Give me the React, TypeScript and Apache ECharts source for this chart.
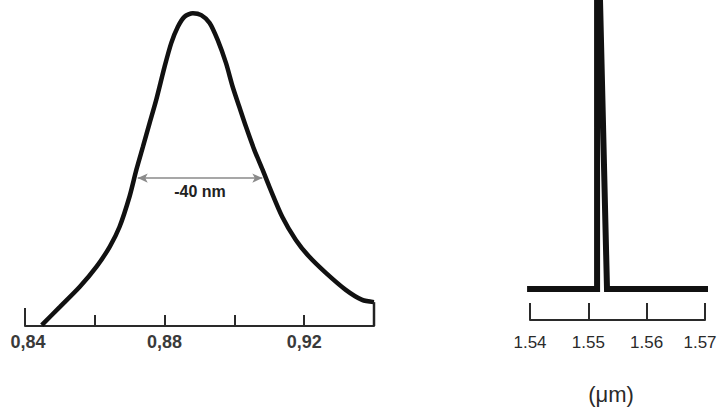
import React, { useEffect, useRef } from "react";
import * as echarts from "echarts";

// Left panel: broad emission spectrum (wavelength in µm, relative intensity)
const leftWavelengths = [
  0.8448, 0.85, 0.8557, 0.8605, 0.8643, 0.8671, 0.87, 0.8719, 0.8738, 0.8757,
  0.8776, 0.88, 0.8819, 0.8838, 0.8857, 0.8881, 0.8905, 0.8929, 0.8952, 0.8976,
  0.8995, 0.9014, 0.9033, 0.9057, 0.9081, 0.91, 0.9137, 0.9176, 0.9214, 0.9262,
  0.9319, 0.9366, 0.94,
];
const leftIntensity = [
  0.003, 0.061, 0.125, 0.189, 0.253, 0.316, 0.414, 0.497, 0.571, 0.646,
  0.72, 0.826, 0.901, 0.953, 0.985, 0.996, 0.99, 0.965, 0.911, 0.837,
  0.762, 0.698, 0.635, 0.561, 0.497, 0.444, 0.348, 0.274, 0.221, 0.169,
  0.115, 0.083, 0.076,
];
const leftLabelValues = [0.84, 0.88, 0.92];
const leftLabelTexts = ["0,84", "0,88", "0,92"];
const fwhmFrom = 0.8723;
const fwhmTo = 0.908;
const fwhmLevel = 0.471;
const fwhmText = "-40 nm";
const leftEndTick = 0.057;

// Right panel: narrow laser line
const rightWavelengths = [1.5395, 1.5515, 1.5515, 1.552, 1.5532, 1.5722];
const rightIntensity = [0, 0, 1, 1, 0, 0];
const rightTickLabels = ["1.54", "1.55", "1.56", "1.57"];
const rightUnit = "(μm)";

export default function App() {
  const ref = useRef<HTMLDivElement>(null);
  useEffect(() => {
    if (!ref.current) return;
    const chart = echarts.init(ref.current, null, { renderer: "svg" });
    const leftData = leftWavelengths.map((x, i) => [x, leftIntensity[i]]);
    const lastX = leftWavelengths[leftWavelengths.length - 1];
    const lastY = leftIntensity[leftIntensity.length - 1];
    const rightData = rightWavelengths.map((x, i) => [x, rightIntensity[i]]);
    chart.setOption({
      animation: false,
      backgroundColor: "#ffffff",
      grid: [
        { left: 25, right: 343, top: 12, bottom: 88, outerBoundsMode: "none", containLabel: false },
        { left: 530, right: 12, top: 0, bottom: 125, outerBoundsMode: "none", containLabel: false },
      ],
      xAxis: [
        {
          gridIndex: 0,
          type: "value",
          min: 0.84,
          max: 0.94,
          interval: 0.02,
          splitLine: { show: false },
          axisLine: { onZero: false, lineStyle: { color: "#2a2a2a", width: 2 } },
          axisTick: { inside: true, length: 11, lineStyle: { color: "#2a2a2a", width: 2 } },
          axisLabel: {
            margin: 7,
            color: "#3a3a3a",
            fontFamily: "Liberation Sans, Arial, sans-serif",
            fontWeight: "bold",
            fontSize: 18,
            showMaxLabel: false,
            formatter: (v: number) => {
              const i = leftLabelValues.findIndex((x) => Math.abs(x - v) < 1e-6);
              if (i < 0) return "";
              return i === 0 ? "{first|" + leftLabelTexts[i] + "}" : leftLabelTexts[i];
            },
            rich: {
              first: {
                padding: [0, 0, 0, 6],
                color: "#3a3a3a",
                fontFamily: "Liberation Sans, Arial, sans-serif",
                fontWeight: "bold",
                fontSize: 18,
              },
            },
          },
        },
        {
          gridIndex: 1,
          type: "value",
          min: 1.54,
          max: 1.57,
          interval: 0.01,
          offset: 31,
          splitLine: { show: false },
          axisLine: { onZero: false, lineStyle: { color: "#2a2a2a", width: 2 } },
          axisTick: { inside: true, length: 17, lineStyle: { color: "#2a2a2a", width: 2 } },
          axisLabel: {
            margin: 14,
            color: "#2a2a2a",
            fontFamily: "Liberation Sans, sans-serif",
            fontSize: 17,
            showMaxLabel: true,
            showMinLabel: true,
            formatter: (v: number) => {
              const idx = Math.round((v - 1.54) / 0.01);
              const t = rightTickLabels[idx] ?? "";
              return idx === rightTickLabels.length - 1 ? "{last|" + t + "}" : t;
            },
            rich: {
              last: {
                padding: [0, 10, 0, 0],
                color: "#2a2a2a",
                fontFamily: "Liberation Sans, sans-serif",
                fontSize: 17,
              },
            },
          },
          name: rightUnit,
          nameLocation: "middle",
          nameGap: 63,
          nameTextStyle: {
            color: "#2a2a2a",
            fontSize: 22,
            fontFamily: "Liberation Sans, sans-serif",
            padding: [0, 13, 0, 0],
          },
        },
      ],
      yAxis: [
        { gridIndex: 0, type: "value", min: 0, max: 1, show: false },
        { gridIndex: 1, type: "value", min: 0, max: 1, show: false },
      ],
      series: [
        {
          type: "line",
          xAxisIndex: 0,
          yAxisIndex: 0,
          data: leftData,
          smooth: 0.25,
          symbol: "none",
          clip: false,
          lineStyle: { color: "#111", width: 4.5 },
          markLine: {
            silent: true,
            symbol: ["arrow", "arrow"],
            symbolSize: [7, 10],
            lineStyle: { color: "#8a8a8a", width: 1.5, type: "solid" },
            label: {
              show: true,
              position: "insideMiddleBottom",
              distance: 5,
              formatter: fwhmText,
              color: "#222",
              fontSize: 16,
              fontWeight: "bold",
              fontFamily: "Liberation Sans, sans-serif",
            },
            data: [[{ coord: [fwhmFrom, fwhmLevel] }, { coord: [fwhmTo, fwhmLevel] }]],
          },
        },
        {
          type: "line",
          xAxisIndex: 0,
          yAxisIndex: 0,
          data: [[lastX, lastY], [lastX, 0]],
          symbol: "none",
          clip: false,
          lineStyle: { color: "#222", width: 2.5 },
        },
        {
          type: "line",
          xAxisIndex: 0,
          yAxisIndex: 0,
          data: [[0.84, 0], [0.84, leftEndTick]],
          symbol: "none",
          clip: false,
          lineStyle: { color: "#2a2a2a", width: 2 },
        },
        {
          type: "line",
          xAxisIndex: 1,
          yAxisIndex: 1,
          data: rightData,
          symbol: "none",
          clip: false,
          lineStyle: { color: "#111", width: 6, join: "miter" },
        },
      ],
    });
    return () => chart.dispose();
  }, []);
  return (
    <div
      ref={ref}
      style={{ position: "fixed", left: 0, top: 0, width: 717, height: 414, background: "#fff" }}
    />
  );
}
